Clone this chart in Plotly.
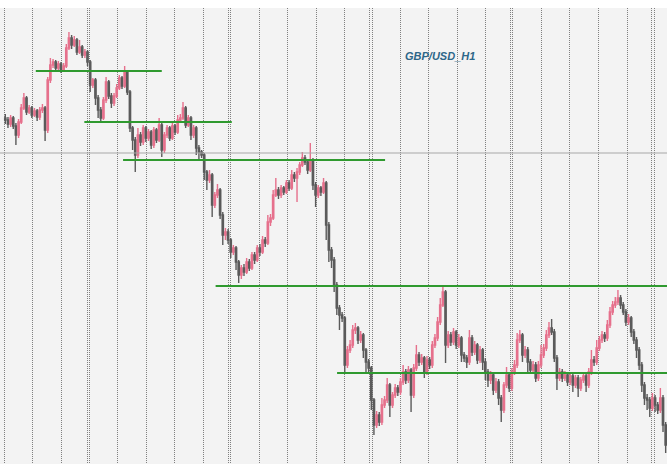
import plotly.graph_objects as go

# GBP/USD H1 bars (price), one per hour; open of each bar = previous close
first_open = 1.3035
closes = [
    1.3033, 1.3029, 1.3035, 1.3027, 1.3018, 1.3031, 1.3045, 1.3055, 1.3041, 1.3045,
    1.3038, 1.3042, 1.3036, 1.3043, 1.3045, 1.3023, 1.3073, 1.3088, 1.3091, 1.3085,
    1.3089, 1.3083, 1.3087, 1.3105, 1.3115, 1.3108, 1.3113, 1.3101, 1.3106, 1.3098,
    1.3101, 1.3091, 1.3068, 1.3073, 1.3055, 1.3043, 1.3035, 1.3053, 1.3071, 1.3057,
    1.3050, 1.3057, 1.3065, 1.3075, 1.3067, 1.3081, 1.3061, 1.3025, 1.3013, 1.2998,
    1.3018, 1.3011, 1.3025, 1.3015, 1.3021, 1.3008, 1.3023, 1.3013, 1.3028, 1.3003,
    1.3018, 1.3025, 1.3015, 1.3027, 1.3021, 1.3033, 1.3035, 1.3045, 1.3028, 1.3035,
    1.3018, 1.3025, 1.3005, 1.3001, 1.2998, 1.2981, 1.2973, 1.2978, 1.2948, 1.2958,
    1.2963, 1.2938, 1.2918, 1.2921, 1.2913, 1.2901, 1.2905, 1.2891, 1.2878, 1.2885,
    1.2881, 1.2891, 1.2885, 1.2898, 1.2893, 1.2905, 1.2901, 1.2913, 1.2910, 1.2931,
    1.2935, 1.2958, 1.2963, 1.2958, 1.2965, 1.2961, 1.2970, 1.2965, 1.2978, 1.2975,
    1.2981, 1.2988, 1.2995, 1.2991, 1.2983, 1.2993, 1.2968, 1.2958, 1.2965, 1.2961,
    1.2970, 1.2928, 1.2903, 1.2893, 1.2868, 1.2845, 1.2838, 1.2835, 1.2788, 1.2803,
    1.2808, 1.2823, 1.2825, 1.2813, 1.2818, 1.2803, 1.2791, 1.2785, 1.2753, 1.2728,
    1.2738, 1.2731, 1.2748, 1.2753, 1.2768, 1.2748, 1.2758, 1.2765, 1.2761, 1.2771,
    1.2781, 1.2773, 1.2783, 1.2758, 1.2785, 1.2798, 1.2791, 1.2795, 1.2781, 1.2793,
    1.2788, 1.2808, 1.2815, 1.2831, 1.2848, 1.2861, 1.2808, 1.2818, 1.2811, 1.2821,
    1.2808, 1.2815, 1.2798, 1.2795, 1.2791, 1.2815, 1.2801, 1.2808, 1.2793, 1.2803,
    1.2791, 1.2781, 1.2773, 1.2778, 1.2763, 1.2771, 1.2755, 1.2743, 1.2768, 1.2778,
    1.2765, 1.2781, 1.2788, 1.2813, 1.2818, 1.2798, 1.2803, 1.2791, 1.2783, 1.2788,
    1.2775, 1.2788, 1.2798, 1.2805, 1.2818, 1.2825, 1.2821, 1.2795, 1.2775, 1.2781,
    1.2775, 1.2778, 1.2771, 1.2777, 1.2768, 1.2775, 1.2765, 1.2773, 1.2777, 1.2768,
    1.2781, 1.2793, 1.2791, 1.2805, 1.2813, 1.2818, 1.2815, 1.2828, 1.2841, 1.2848,
    1.2851, 1.2855, 1.2848, 1.2841, 1.2831, 1.2835, 1.2821, 1.2813, 1.2803, 1.2788,
    1.2768, 1.2755, 1.2753, 1.2745, 1.2755, 1.2748, 1.2743, 1.2755, 1.2728, 1.2708,
]
highs = [
    1.3039, 1.3036, 1.3038, 1.3037, 1.3030, 1.3034, 1.3049, 1.3060, 1.3057, 1.3048,
    1.3047, 1.3045, 1.3044, 1.3046, 1.3049, 1.3047, 1.3076, 1.3095, 1.3094, 1.3093,
    1.3092, 1.3091, 1.3090, 1.3109, 1.3121, 1.3118, 1.3117, 1.3115, 1.3113, 1.3108,
    1.3104, 1.3103, 1.3093, 1.3075, 1.3075, 1.3058, 1.3046, 1.3056, 1.3076, 1.3073,
    1.3060, 1.3060, 1.3069, 1.3078, 1.3077, 1.3087, 1.3083, 1.3063, 1.3027, 1.3016,
    1.3025, 1.3021, 1.3028, 1.3027, 1.3024, 1.3023, 1.3026, 1.3025, 1.3035, 1.3030,
    1.3021, 1.3028, 1.3027, 1.3030, 1.3029, 1.3038, 1.3039, 1.3051, 1.3047, 1.3038,
    1.3037, 1.3028, 1.3027, 1.3008, 1.3003, 1.3000, 1.2983, 1.2983, 1.2980, 1.2961,
    1.2969, 1.2965, 1.2941, 1.2925, 1.2924, 1.2915, 1.2908, 1.2907, 1.2893, 1.2888,
    1.2889, 1.2895, 1.2894, 1.2901, 1.2901, 1.2908, 1.2909, 1.2917, 1.2916, 1.2938,
    1.2939, 1.2963, 1.2975, 1.2966, 1.2968, 1.2967, 1.2973, 1.2973, 1.2983, 1.2981,
    1.2985, 1.2991, 1.3001, 1.2998, 1.2994, 1.3010, 1.2995, 1.2971, 1.2968, 1.2967,
    1.2975, 1.2972, 1.2931, 1.2906, 1.2896, 1.2871, 1.2848, 1.2841, 1.2837, 1.2807,
    1.2813, 1.2828, 1.2830, 1.2827, 1.2822, 1.2820, 1.2805, 1.2794, 1.2787, 1.2755,
    1.2742, 1.2741, 1.2755, 1.2757, 1.2775, 1.2770, 1.2761, 1.2769, 1.2768, 1.2775,
    1.2788, 1.2784, 1.2787, 1.2785, 1.2789, 1.2808, 1.2801, 1.2799, 1.2797, 1.2797,
    1.2796, 1.2812, 1.2819, 1.2836, 1.2855, 1.2867, 1.2863, 1.2822, 1.2821, 1.2825,
    1.2823, 1.2819, 1.2817, 1.2801, 1.2798, 1.2823, 1.2818, 1.2812, 1.2810, 1.2807,
    1.2805, 1.2795, 1.2784, 1.2782, 1.2781, 1.2775, 1.2774, 1.2758, 1.2771, 1.2786,
    1.2781, 1.2785, 1.2793, 1.2820, 1.2823, 1.2820, 1.2807, 1.2806, 1.2794, 1.2792,
    1.2791, 1.2792, 1.2808, 1.2809, 1.2823, 1.2831, 1.2834, 1.2824, 1.2798, 1.2785,
    1.2784, 1.2782, 1.2781, 1.2780, 1.2780, 1.2778, 1.2778, 1.2776, 1.2781, 1.2780,
    1.2785, 1.2803, 1.2797, 1.2813, 1.2817, 1.2822, 1.2821, 1.2833, 1.2846, 1.2852,
    1.2856, 1.2863, 1.2858, 1.2851, 1.2844, 1.2839, 1.2837, 1.2824, 1.2816, 1.2806,
    1.2791, 1.2771, 1.2759, 1.2756, 1.2760, 1.2758, 1.2751, 1.2765, 1.2758, 1.2731,
]
lows = [
    1.3029, 1.3025, 1.3026, 1.3024, 1.3008, 1.3015, 1.3029, 1.3043, 1.3038, 1.3039,
    1.3035, 1.3036, 1.3032, 1.3033, 1.3040, 1.3012, 1.3020, 1.3070, 1.3085, 1.3081,
    1.3083, 1.3080, 1.3081, 1.3085, 1.3103, 1.3104, 1.3106, 1.3098, 1.3099, 1.3095,
    1.3095, 1.3087, 1.3061, 1.3065, 1.3048, 1.3035, 1.3032, 1.3033, 1.3050, 1.3054,
    1.3045, 1.3047, 1.3055, 1.3063, 1.3064, 1.3065, 1.3058, 1.3021, 1.3003, 1.2981,
    1.2995, 1.3007, 1.3008, 1.3011, 1.3012, 1.3004, 1.3005, 1.3010, 1.3011, 1.2996,
    1.3000, 1.3015, 1.3012, 1.3013, 1.3018, 1.3019, 1.3030, 1.3033, 1.3025, 1.3026,
    1.3013, 1.3015, 1.2998, 1.2993, 1.2995, 1.2973, 1.2963, 1.2970, 1.2936, 1.2945,
    1.2955, 1.2934, 1.2908, 1.2913, 1.2909, 1.2895, 1.2898, 1.2883, 1.2870, 1.2874,
    1.2877, 1.2879, 1.2882, 1.2883, 1.2889, 1.2891, 1.2897, 1.2899, 1.2906, 1.2908,
    1.2927, 1.2933, 1.2956, 1.2954, 1.2955, 1.2958, 1.2959, 1.2962, 1.2963, 1.2971,
    1.2951, 1.2978, 1.2986, 1.2988, 1.2979, 1.2981, 1.2963, 1.2946, 1.2955, 1.2957,
    1.2959, 1.2913, 1.2891, 1.2885, 1.2861, 1.2838, 1.2823, 1.2831, 1.2779, 1.2785,
    1.2800, 1.2805, 1.2819, 1.2809, 1.2810, 1.2795, 1.2781, 1.2779, 1.2743, 1.2718,
    1.2725, 1.2727, 1.2728, 1.2745, 1.2750, 1.2736, 1.2745, 1.2755, 1.2757, 1.2758,
    1.2768, 1.2769, 1.2770, 1.2741, 1.2755, 1.2782, 1.2787, 1.2788, 1.2775, 1.2778,
    1.2784, 1.2785, 1.2805, 1.2812, 1.2828, 1.2846, 1.2790, 1.2805, 1.2807, 1.2808,
    1.2804, 1.2805, 1.2791, 1.2791, 1.2785, 1.2788, 1.2797, 1.2798, 1.2789, 1.2790,
    1.2783, 1.2773, 1.2766, 1.2769, 1.2758, 1.2760, 1.2748, 1.2731, 1.2740, 1.2765,
    1.2761, 1.2762, 1.2778, 1.2785, 1.2810, 1.2791, 1.2795, 1.2781, 1.2779, 1.2780,
    1.2771, 1.2772, 1.2785, 1.2795, 1.2802, 1.2815, 1.2818, 1.2791, 1.2763, 1.2772,
    1.2771, 1.2772, 1.2767, 1.2768, 1.2761, 1.2765, 1.2756, 1.2762, 1.2770, 1.2761,
    1.2765, 1.2778, 1.2787, 1.2788, 1.2802, 1.2810, 1.2811, 1.2812, 1.2825, 1.2838,
    1.2845, 1.2848, 1.2844, 1.2838, 1.2827, 1.2828, 1.2816, 1.2809, 1.2795, 1.2783,
    1.2761, 1.2748, 1.2743, 1.2736, 1.2742, 1.2741, 1.2739, 1.2740, 1.2721, 1.2700,
]
opens = [first_open] + closes[:-1]
bars = list(range(len(closes)))

# support / resistance levels drawn on the chart
level_prices = [1.3082, 1.3031, 1.2993, 1.2867, 1.2780]
level_start = [11.5, 29.8, 44.4, 79.3, 125.1]
level_end = [59.0, 85.4, 143.2, 249.5, 249.5]

price_line = 1.3000

# grid / period separator positions (bar index)
grid_bars = [-0.23, 10.4, 21.3, 30.9, 31.7, 42.2, 53.05, 63.9, 74.7, 84.1, 84.9,
             95.7, 106.5, 117.2, 127.8, 137.5, 138.3, 148.9, 159.6, 170.4, 181.1,
             190.4, 191.2, 202.3, 212.9, 223.7, 234.5, 243.8, 244.6]

fig = go.Figure()

fig.add_trace(go.Candlestick(
    x=bars, open=opens, high=highs, low=lows, close=closes,
    increasing=dict(line=dict(color="#e6708c", width=1.4), fillcolor="#ec8aa2"),
    decreasing=dict(line=dict(color="#5a5a5a", width=1.4), fillcolor="#666666"),
    whiskerwidth=0,
    showlegend=False,
))

# gray price line across the full width
fig.add_trace(go.Scatter(
    x=[-2, 249.5], y=[price_line, price_line], mode="lines",
    line=dict(color="#a8a8a8", width=1.2), showlegend=False, hoverinfo="skip",
))

for p, x0, x1 in zip(level_prices, level_start, level_end):
    fig.add_trace(go.Scatter(
        x=[x0, x1], y=[p, p], mode="lines",
        line=dict(color="#2f9a2f", width=2), showlegend=False, hoverinfo="skip",
    ))

fig.add_annotation(
    text="<b><i>GBP/USD_H1</i></b>", xref="paper", yref="paper",
    x=0.66, y=0.912, showarrow=False,
    font=dict(family="Liberation Sans, Arial", size=11, color="#2d6688"),
)

fig.update_layout(
    width=667, height=464,
    margin=dict(l=0, r=0, t=8, b=0),
    paper_bgcolor="white",
    plot_bgcolor="#f3f3f3",
    xaxis=dict(range=[-2, 249.5], tickvals=grid_bars, showticklabels=False,
               showgrid=True, gridcolor="#808080", griddash="1px,1px", gridwidth=1,
               zeroline=False, rangeslider=dict(visible=False), ticks=""),
    yaxis=dict(range=[1.2689, 1.3145], showgrid=False, showticklabels=False,
               zeroline=False, ticks=""),
)

# page body has a default 8px margin; drop it so the chart fills the window
fig.write_html(
    "out.html",
    config={"displayModeBar": False},
    post_script="document.body.style.margin='0';document.body.style.overflow='hidden';",
)
